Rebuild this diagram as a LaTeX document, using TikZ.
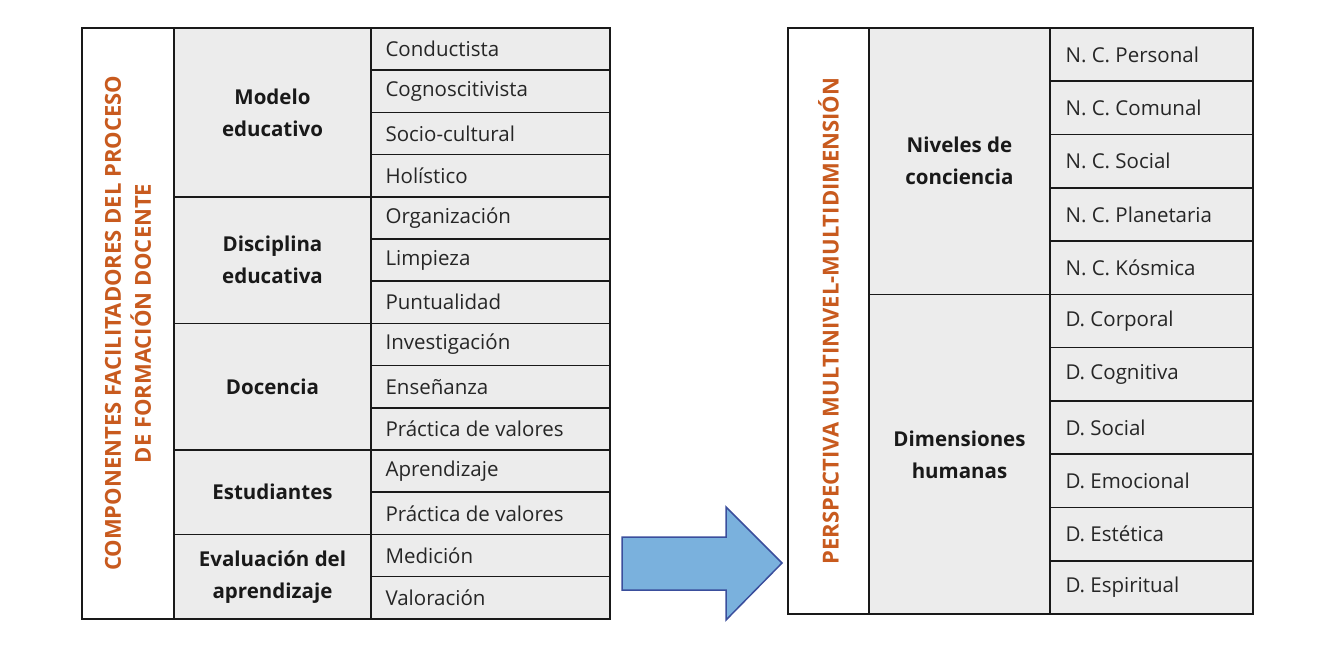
\documentclass[tikz,border=0pt]{standalone}
\usepackage{fontspec}
\setmainfont{Open Sans}
\begin{document}
\begin{tikzpicture}[x=1pt,y=-1pt,
  cellg/.style={fill=cg,draw=black!90,line width=1.6pt},
  cellw/.style={fill=white,draw=black!90,line width=1.6pt},
  itm/.style={anchor=west,font=\fontsize{20.5}{24}\selectfont,text=black!85},
  grp/.style={align=center,font=\fontsize{20.5}{32}\selectfont\bfseries,text=black!90},
  ttl/.style={rotate=90,align=center,font=\fontsize{22}{30}\selectfont\bfseries,text=org}]
\definecolor{cg}{HTML}{ECECEC}\definecolor{org}{HTML}{C85A1E}
\definecolor{ab}{HTML}{7AB1DD}\definecolor{abd}{HTML}{3A4E9C}
\useasboundingbox (0,0) rectangle (1340,654);
% left table
\draw[cellw] (82,28) rectangle (174,618.8);
\node[ttl] (lt) at (128,323.4) {COMPONENTES FACILITADORES DEL PROCESO\\DE FORMACIÓN DOCENTE};
\foreach \a/\b/\t [count=\i] in {28/196.8/{Modelo\\educativo},196.8/323.4/{Disciplina\\educativa},323.4/450/{Docencia},450/534.4/{Estudiantes},534.4/618.8/{Evaluación del\\aprendizaje}}{
  \draw[cellg] (174,\a) rectangle (371,\b);
  \node[grp] (lg\i) at (272.5,{(\a+\b)/2}) {\t};}
\foreach \t [count=\i] in {Conductista,Cognoscitivista,Socio-cultural,Holístico,Organización,Limpieza,Puntualidad,Investigación,Enseñanza,Práctica de valores,Aprendizaje,Práctica de valores,Medición,Valoración}{
  \pgfmathsetmacro\ya{28+(\i-1)*42.2}\pgfmathsetmacro\yb{28+\i*42.2}
  \draw[cellg] (371,\ya) rectangle (610,\yb);
  \node[itm] (li\i) at (382,{(\ya+\yb)/2}) {\t};}
% arrow
\draw[fill=ab,draw=abd,line width=1.5pt,line join=miter] (622,537) -- (726,537) -- (726,507) -- (782,563) -- (726,620) -- (726,590) -- (622,590) -- cycle;
% right table
\draw[cellw] (788,28) rectangle (869,614);
\node[ttl] (rt) at (828.5,321) {PERSPECTIVA MULTINIVEL-MULTIDIMENSIÓN};
\draw[cellg] (869,28) rectangle (1050,294.5);
\node[grp] (rg1) at (959.5,161) {Niveles de\\conciencia};
\draw[cellg] (869,294.5) rectangle (1050,614);
\node[grp] (rg2) at (959.5,455) {Dimensiones\\humanas};
\foreach \t [count=\i] in {N. C. Personal,N. C. Comunal,N. C. Social,N. C. Planetaria,N. C. Kósmica,D. Corporal,D. Cognitiva,D. Social,D. Emocional,D. Estética,D. Espiritual}{
  \pgfmathsetmacro\ya{28+(\i-1)*53.27}\pgfmathsetmacro\yb{28+\i*53.27}
  \draw[cellg] (1050,\ya) rectangle (1253,\yb);
  \node[itm] (ri\i) at (1062,{(\ya+\yb)/2}) {\t};}
\end{tikzpicture}
\end{document}
